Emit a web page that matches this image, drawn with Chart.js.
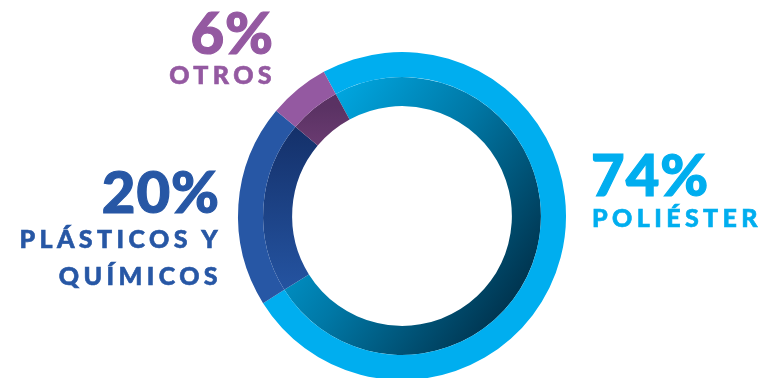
<!DOCTYPE html>
<html>
<head>
<meta charset="utf-8">
<script src="https://cdn.jsdelivr.net/npm/chart.js@4.4.0/dist/chart.umd.min.js"></script>
<style>
  html, body { margin: 0; padding: 0; background: #fff; overflow: hidden; }
  #wrap { position: relative; width: 762px; height: 378px; }
  #myChart { position: absolute; left: 0; top: 0; }
  .lbl { position: absolute; font-family: Lato, "Noto Sans", sans-serif; font-weight: 900; line-height: 1; white-space: nowrap; }
  .pct { font-size: 58px; letter-spacing: 1px; -webkit-text-stroke: 1.2px currentColor; }
  .name { font-size: 25px; letter-spacing: 4.4px; -webkit-text-stroke: 0.6px currentColor; }
</style>
</head>
<body>
<div id="wrap">
  <canvas id="myChart" width="762" height="378"></canvas>
  <div class="lbl pct" id="p0" style="color:#00AEEF; left:591px; top:145px;"></div>
  <div class="lbl name" id="n0" style="color:#00AEEF; left:592px; top:205px;"></div>
  <div class="lbl pct" id="p1" style="color:#2757A5; right:542px; top:162px; text-align:right;"></div>
  <div class="lbl name" id="n1" style="color:#2757A5; right:540px; top:220px; text-align:right; line-height:37px;"></div>
  <div class="lbl pct" id="p2" style="color:#9459A1; right:488px; top:3px; text-align:right;"></div>
  <div class="lbl name" id="n2" style="color:#9459A1; right:486px; top:62px; text-align:right;"></div>
</div>
<script>
document.addEventListener('DOMContentLoaded', () => {
    const ctx = document.getElementById('myChart').getContext('2d');

    // Data
    const categories = ["POLIÉSTER", "PLÁSTICOS Y QUÍMICOS", "OTROS"];
    const labelLines = [["POLIÉSTER"], ["PLÁSTICOS Y", "QUÍMICOS"], ["OTROS"]];
    const shares = [74, 20, 6];
    const pctLabels = ["74%", "20%", "6%"];

    const outerColors = ["#00AEEF", "#2757A5", "#9459A1"];

    // labels as real text
    shares.forEach((v, i) => {
        document.getElementById('p' + i).textContent = pctLabels[i];
        document.getElementById('n' + i).innerHTML = labelLines[i].join('<br>');
    });

    // shaded inner ring
    function innerColor(context) {
        const chart = context.chart;
        const area = chart.chartArea;
        if (!area) return null;
        const c = chart.ctx;
        const cx = (area.left + area.right) / 2;
        const cy = (area.top + area.bottom) / 2;
        let g;
        if (context.dataIndex === 0) {
            g = c.createLinearGradient(cx - 110, cy - 70, cx + 120, cy + 90);
            g.addColorStop(0, "#00A8E2");
            g.addColorStop(0.45, "#0078A6");
            g.addColorStop(1, "#00304A");
        } else if (context.dataIndex === 1) {
            g = c.createLinearGradient(0, cy - 100, 0, cy + 80);
            g.addColorStop(0, "#132E66");
            g.addColorStop(1, "#2555A3");
        } else {
            g = c.createLinearGradient(0, cy - 110, 0, cy - 70);
            g.addColorStop(0, "#5A3263");
            g.addColorStop(1, "#6A3B71");
        }
        return g;
    }

    let chart = new Chart(ctx, {
        type: "doughnut",
        data: {
            labels: categories,
            datasets: [
                {
                    label: "Composición",
                    data: shares,
                    backgroundColor: outerColors,
                    borderWidth: 0,
                    weight: 25,
                    clip: false
                },
                {
                    label: "Composición (sombra)",
                    data: shares,
                    backgroundColor: innerColor,
                    borderWidth: 0,
                    weight: 29,
                    clip: false
                }
            ]
        },
        options: {
            responsive: false,
            animation: false,
            rotation: -28.5,
            radius: 164,
            cutout: "67%",
            layout: {
                padding: { left: 42, right: 0, top: 54, bottom: 0 }
            },
            plugins: {
                legend: { display: false },
                tooltip: { enabled: false }
            }
        }
    });
});
</script>
</body>
</html>
